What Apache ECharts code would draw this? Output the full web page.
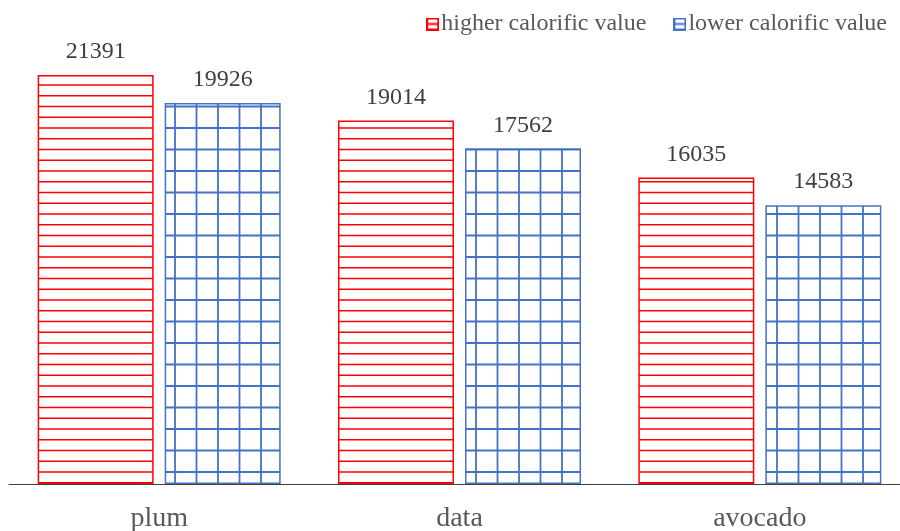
<!DOCTYPE html>
<html>
<head>
<meta charset="utf-8">
<script src="https://cdn.jsdelivr.net/npm/echarts@6/dist/echarts.min.js"></script>
<style>html,body{margin:0;padding:0;background:#fff}#c{width:900px;height:531px}</style>
</head>
<body>
<div id="c"></div>
<script>
const categories = ['plum', 'data', 'avocado'];
const seriesNames = ['higher calorific value', 'lower calorific value'];
const higherValues = [21391, 19014, 16035];
const lowerValues = [19926, 17562, 14583];

function redTile() {
  const c = document.createElement('canvas');
  c.width = 43; c.height = 43;
  const g = c.getContext('2d');
  g.fillStyle = '#ffffff'; g.fillRect(0, 0, 43, 43);
  g.strokeStyle = '#FF0000'; g.lineWidth = 1.6;
  [9.75, 20.5, 31.25, 42].forEach(y => { g.beginPath(); g.moveTo(0, y); g.lineTo(43, y); g.stroke(); });
  return c;
}
function blueTile() {
  const c = document.createElement('canvas');
  c.width = 43; c.height = 43;
  const g = c.getContext('2d');
  g.fillStyle = '#ffffff'; g.fillRect(0, 0, 43, 43);
  g.strokeStyle = '#4472C4'; g.lineWidth = 1.8;
  [20.5, 42].forEach(y => { g.beginPath(); g.moveTo(0, y); g.lineTo(43, y); g.stroke(); });
  [3, 24.5].forEach(x => { g.beginPath(); g.moveTo(x, 0); g.lineTo(x, 43); g.stroke(); });
  return c;
}
function legendIcon(color) {
  const c = document.createElement('canvas');
  c.width = 13; c.height = 13;
  const g = c.getContext('2d');
  g.fillStyle = '#ffffff'; g.fillRect(0, 0, 13, 13);
  g.strokeStyle = color; g.lineWidth = 2;
  g.strokeRect(1, 1, 11, 11);
  g.beginPath(); g.moveTo(1, 6.5); g.lineTo(12, 6.5); g.stroke();
  return 'image://' + c.toDataURL();
}

const FONT = "'Liberation Serif', 'Times New Roman', serif";
const chart = echarts.init(document.getElementById('c'), null, {renderer: 'canvas'});
const labelCfg = {show: true, position: 'top', distance: 11, color: '#404040', fontSize: 24, fontFamily: FONT};
chart.setOption({
  animation: false,
  backgroundColor: '#ffffff',
  legend: {
    right: 8, top: 7, itemWidth: 13, itemHeight: 13, itemGap: 27,
    textStyle: {color: '#595959', fontSize: 24, fontFamily: FONT, padding: [0, 0, 0, -3]},
    data: [
      {name: seriesNames[0], icon: legendIcon('#FF0000')},
      {name: seriesNames[1], icon: legendIcon('#4472C4')}
    ]
  },
  grid: {left: 9, top: 6, width: 901, height: 478, containLabel: false, outerBoundsMode: 'none'},
  xAxis: {
    type: 'category', data: categories,
    axisLine: {lineStyle: {color: '#404040', width: 1}},
    axisTick: {show: false},
    axisLabel: {color: '#595959', fontSize: 28, fontFamily: FONT, margin: 21}
  },
  yAxis: {type: 'value', min: 0, max: 25000, show: false, splitLine: {show: false}},
  series: [
    {
      name: seriesNames[0], type: 'bar', data: higherValues, barWidth: 116, barGap: '9.5%',
      itemStyle: {color: {image: redTile(), repeat: 'repeat'}, borderColor: '#FF0000', borderWidth: 1.5},
      label: labelCfg
    },
    {
      name: seriesNames[1], type: 'bar', data: lowerValues, barWidth: 116,
      itemStyle: {color: {image: blueTile(), repeat: 'repeat'}, borderColor: '#4472C4', borderWidth: 1.5},
      label: labelCfg
    }
  ]
});
</script>
</body>
</html>
